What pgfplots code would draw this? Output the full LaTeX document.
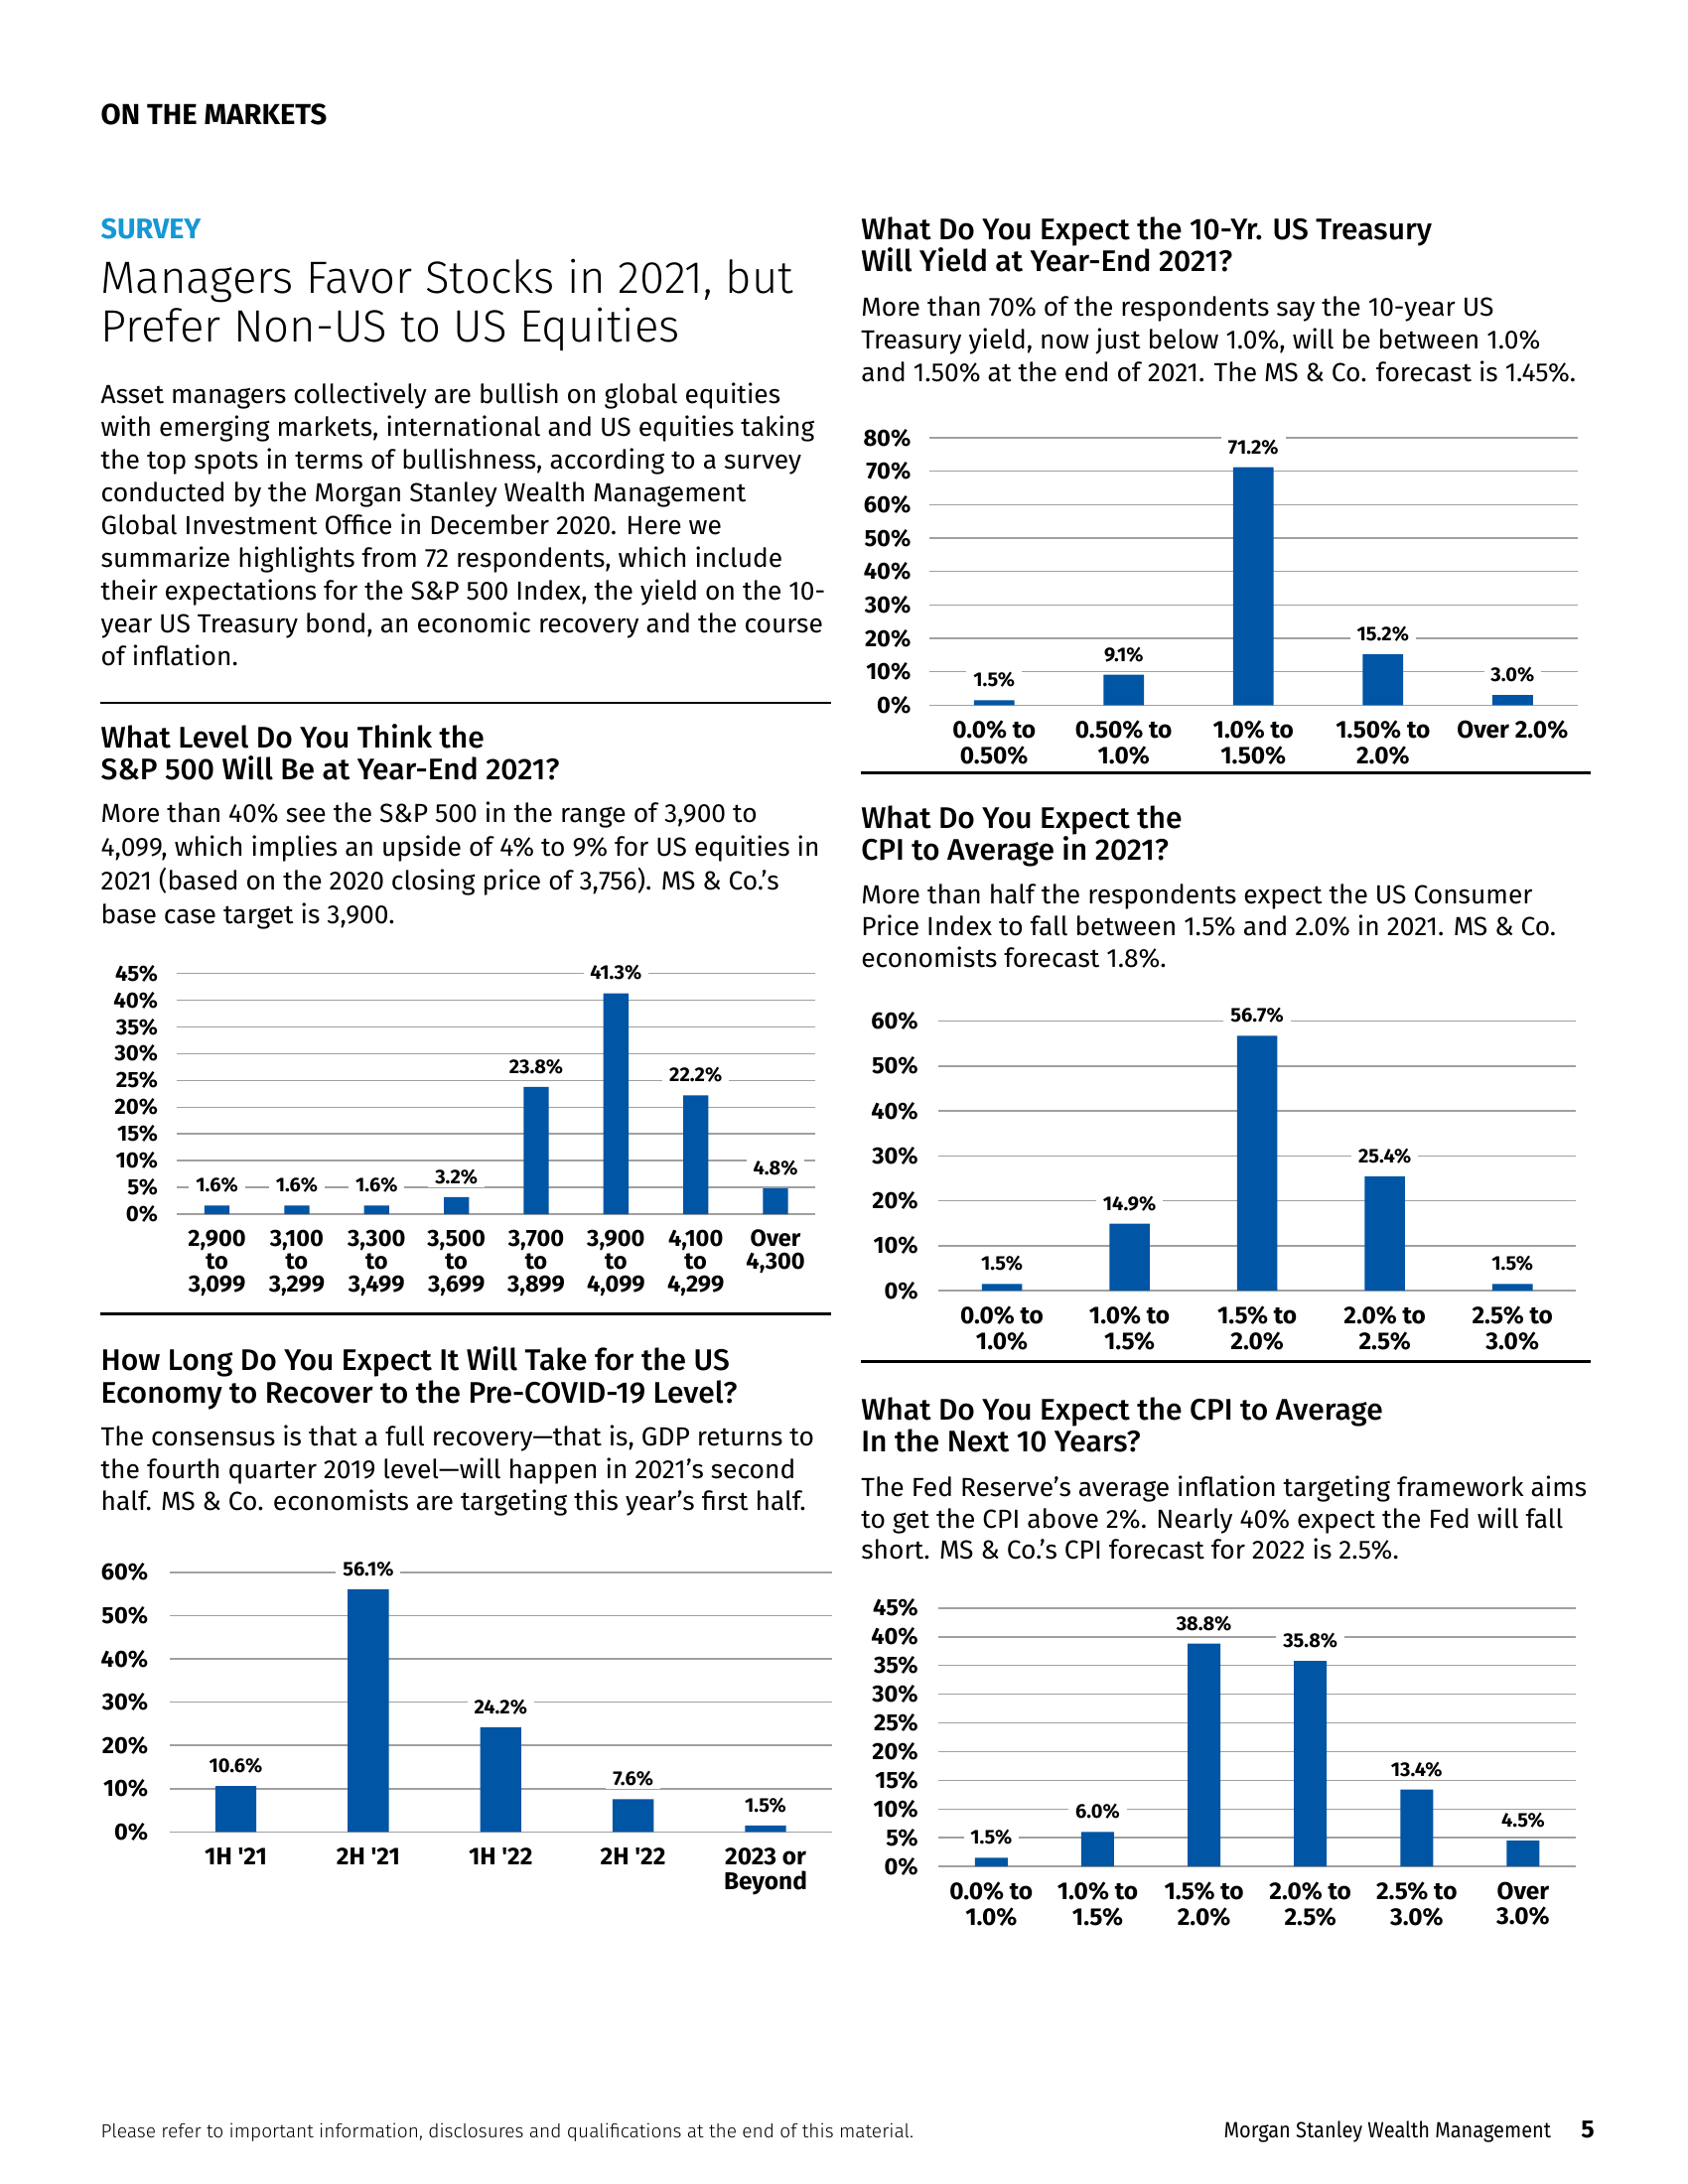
\documentclass[border=0pt]{standalone}
\usepackage{fontspec}
\setmainfont{Fira Sans}
\newfontfamily\lightf{Fira Sans}[UprightFont=* Light]
\newfontfamily\hf{Fira Sans}[UprightFont=* Medium]
\newfontfamily\cf{Fira Sans}[FakeStretch=0.9]
\newfontfamily\lf{Fira Sans}
\usepackage{pgfplots}
\pgfplotsset{compat=1.18}

\definecolor{barblue}{RGB}{0,85,165}
\definecolor{survey}{RGB}{20,152,214}
\definecolor{gridgray}{RGB}{160,160,160}

% common look of the five survey bar charts
\pgfplotsset{msbar/.style={
  ybar, scale only axis, clip=false,
  axis line style={draw=none},
  major tick length=0pt,
  ymin=0, enlargelimits=false,
  xtick=data,
  ymajorgrids, grid style={draw=gridgray, line width=0.55pt},
  /pgf/number format/assume math mode=true,
  yticklabel={\pgfmathprintnumber{\tick}\%},
  yticklabel style={anchor=east, inner sep=0pt, font=\lf\bfseries\fontsize{8.5}{9}\selectfont},
  xticklabel style={anchor=north, align=center, inner sep=0pt, yshift=-5.5pt,
    font=\lf\bfseries\fontsize{8.8}{9.2}\selectfont},
  nodes near coords={\pgfmathprintnumber[fixed,fixed zerofill,precision=1]{\pgfplotspointmeta}\%},
  every node near coord/.append style={font=\lf\bfseries\fontsize{7.2}{7.5}\selectfont,
    fill=white, inner xsep=2.5pt, inner ysep=1pt, yshift=3.4pt, text=black},
}}

\begin{document}
\begin{tikzpicture}
\begin{scope}[x=0.5058pt, y=-0.5058pt]
\fill[white] (0,0) rectangle (1210,1566);
\coordinate (spx) at (127,870.6);
\coordinate (rec) at (121.6,1313.6);
\coordinate (tsy) at (666.2,505.6);
\coordinate (cpa) at (672.5,925.5);
\coordinate (cpb) at (672.5,1338.3);

\tikzset{every node/.style={anchor=base west, inner sep=0pt}}

% masthead
\node[font=\lf\bfseries\fontsize{10.5}{12}\selectfont] at (72,89) {ON THE MARKETS};
\node[font=\lf\bfseries\fontsize{10.3}{12}\selectfont, text=survey] at (72,171) {SURVEY};
\begin{scope}[font=\lightf\fontsize{16.4}{18}\selectfont]
\node at (72,210) {Managers Favor Stocks in 2021, but};
\node at (72,245.5) {Prefer Non-US to US Equities};
\end{scope}

\begin{scope}[font=\fontsize{9.5}{11}\selectfont]
\node at (72,289) {Asset managers collectively are bullish on global equities};
\node at (72,312.5) {with emerging markets, international and US equities taking};
\node at (72,336) {the top spots in terms of bullishness, according to a survey};
\node at (72,359.5) {conducted by the Morgan Stanley Wealth Management};
\node at (72,383) {Global Investment Office in December 2020. Here we};
\node at (72,406.5) {summarize highlights from 72 respondents, which include};
\node at (72,430) {their expectations for the S\&P 500 Index, the yield on the 10-};
\node at (72,453.5) {year US Treasury bond, an economic recovery and the course};
\node at (72,477) {of inflation.};
\end{scope}
\draw[line width=1pt] (72,504) -- (596,504);

% S&P 500 block
\begin{scope}[font=\hf\fontsize{10.8}{12}\selectfont]
\node at (72,536) {What Level Do You Think the};
\node at (72,559) {S\&P 500 Will Be at Year-End 2021?};
\end{scope}
\begin{scope}[font=\fontsize{9.5}{11}\selectfont]
\node at (72,590) {More than 40\% see the S\&P 500 in the range of 3,900 to};
\node at (72,614) {4,099, which implies an upside of 4\% to 9\% for US equities in};
\node at (72,638) {2021 (based on the 2020 closing price of 3,756). MS \& Co.’s};
\node at (72,662) {base case target is 3,900.};
\end{scope}
\draw[line width=1pt] (72,942) -- (596,942);

% recovery block
\begin{scope}[font=\hf\fontsize{10.8}{12}\selectfont]
\node at (72,983) {How Long Do You Expect It Will Take for the US};
\node at (72,1006) {Economy to Recover to the Pre-COVID-19 Level?};
\end{scope}
\begin{scope}[font=\fontsize{9.5}{11}\selectfont]
\node at (72,1037) {The consensus is that a full recovery---that is, GDP returns to};
\node at (72,1060) {the fourth quarter 2019 level---will happen in 2021’s second};
\node at (72,1083) {half. MS \& Co. economists are targeting this year's first half.};
\end{scope}

% treasury block
\begin{scope}[font=\hf\fontsize{10.8}{12}\selectfont]
\node at (617,172) {What Do You Expect the 10-Yr. US Treasury};
\node at (617,195) {Will Yield at Year-End 2021?};
\end{scope}
\begin{scope}[font=\fontsize{9.5}{11}\selectfont]
\node at (617,226.5) {More than 70\% of the respondents say the 10-year US};
\node at (617,250) {Treasury yield, now just below 1.0\%, will be between 1.0\%};
\node at (617,273.5) {and 1.50\% at the end of 2021. The MS \& Co. forecast is 1.45\%.};
\end{scope}
\draw[line width=1pt] (617,554) -- (1140,554);

% CPI 2021 block
\begin{scope}[font=\hf\fontsize{10.8}{12}\selectfont]
\node at (617,594) {What Do You Expect the};
\node at (617,617) {CPI to Average in 2021?};
\end{scope}
\begin{scope}[font=\fontsize{9.5}{11}\selectfont]
\node at (617,648) {More than half the respondents expect the US Consumer};
\node at (617,671) {Price Index to fall between 1.5\% and 2.0\% in 2021. MS \& Co.};
\node at (617,694) {economists forecast 1.8\%.};
\end{scope}
\draw[line width=1pt] (617,976) -- (1140,976);

% CPI 10-year block
\begin{scope}[font=\hf\fontsize{10.8}{12}\selectfont]
\node at (617,1018) {What Do You Expect the CPI to Average};
\node at (617,1041) {In the Next 10 Years?};
\end{scope}
\begin{scope}[font=\fontsize{9.5}{11}\selectfont]
\node at (617,1073) {The Fed Reserve's average inflation targeting framework aims};
\node at (617,1096) {to get the CPI above 2\%. Nearly 40\% expect the Fed will fall};
\node at (617,1118) {short. MS \& Co.’s CPI forecast for 2022 is 2.5\%.};
\end{scope}

% footer
\node[font=\lightf\fontsize{6.9}{8}\selectfont] at (72,1533) {Please refer to important information, disclosures and qualifications at the end of this material.};
\node[font=\cf\fontsize{8}{9}\selectfont] at (877,1533) {Morgan Stanley Wealth Management};
\node[font=\lf\bfseries\fontsize{9}{10}\selectfont] at (1133,1533) {5};
\end{scope}

% S&P 500 year-end level
\begin{axis}[msbar, at={(spx)}, anchor=south west,
  width=231.45pt, height=87.3pt, xmin=-0.5, xmax=7.5, ymax=45,
  ytick={0,5,...,45}, bar width=9.1pt,
  yticklabel style={xshift=-6.8pt, font=\lf\bfseries\fontsize{8}{9}\selectfont},
  xticklabel style={font=\lf\bfseries\fontsize{8.5}{8.35}\selectfont},
  xticklabels={{2,900\\to\\3,099},{3,100\\to\\3,299},{3,300\\to\\3,499},{3,500\\to\\3,699},
    {3,700\\to\\3,899},{3,900\\to\\4,099},{4,100\\to\\4,299},{Over\\4,300}}]
\addplot[fill=barblue, draw=none] coordinates {(0,1.6) (1,1.6) (2,1.6) (3,3.2) (4,23.8) (5,41.3) (6,22.2) (7,4.8)};
\end{axis}

% recovery timing
\begin{axis}[msbar, at={(rec)}, anchor=south west,
  width=240.1pt, height=94.18pt, xmin=-0.5, xmax=4.5, ymax=60,
  ytick={0,10,...,60}, bar width=14.9pt,
  yticklabel style={xshift=-7.6pt},
  xticklabels={{1H '21},{2H '21},{1H '22},{2H '22},{2023 or\\Beyond}}]
\addplot[fill=barblue, draw=none] coordinates {(0,10.6) (1,56.1) (2,24.2) (3,7.6) (4,1.5)};
\end{axis}

% 10-year Treasury yield
\begin{axis}[msbar, at={(tsy)}, anchor=south west,
  width=235pt, height=96.96pt, xmin=-0.5, xmax=4.5, ymax=80,
  ytick={0,10,...,80}, bar width=14.7pt,
  yticklabel style={xshift=-6.5pt},
  xticklabels={{0.0\% to\\0.50\%},{0.50\% to\\1.0\%},{1.0\% to\\1.50\%},{1.50\% to\\2.0\%},{Over 2.0\%}}]
\addplot[fill=barblue, draw=none] coordinates {(0,1.5) (1,9.1) (2,71.2) (3,15.2) (4,3.0)};
\end{axis}

% CPI 2021
\begin{axis}[msbar, at={(cpa)}, anchor=south west,
  width=231.4pt, height=97.82pt, xmin=-0.5, xmax=4.5, ymax=60,
  ytick={0,10,...,60}, bar width=14.6pt,
  yticklabel style={xshift=-7pt},
  xticklabels={{0.0\% to\\1.0\%},{1.0\% to\\1.5\%},{1.5\% to\\2.0\%},{2.0\% to\\2.5\%},{2.5\% to\\3.0\%}}]
\addplot[fill=barblue, draw=none] coordinates {(0,1.5) (1,14.9) (2,56.7) (3,25.4) (4,1.5)};
\end{axis}

% CPI next 10 years
\begin{axis}[msbar, at={(cpb)}, anchor=south west,
  width=231.4pt, height=93.72pt, xmin=-0.5, xmax=5.5, ymax=45,
  ytick={0,5,...,45}, bar width=11.9pt,
  yticklabel style={xshift=-7pt},
  xticklabels={{0.0\% to\\1.0\%},{1.0\% to\\1.5\%},{1.5\% to\\2.0\%},{2.0\% to\\2.5\%},{2.5\% to\\3.0\%},{Over\\3.0\%}}]
\addplot[fill=barblue, draw=none] coordinates {(0,1.5) (1,6.0) (2,38.8) (3,35.8) (4,13.4) (5,4.5)};
\end{axis}
\end{tikzpicture}
\end{document}
